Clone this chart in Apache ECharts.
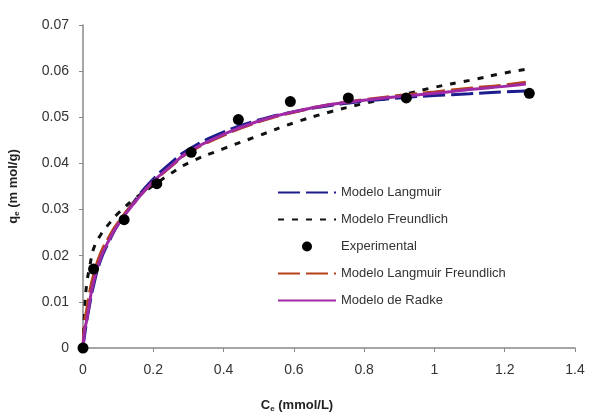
<!DOCTYPE html>
<html>
<head>
<meta charset="utf-8">
<script src="https://cdn.jsdelivr.net/npm/echarts@6/dist/echarts.min.js"></script>
<style>
  html, body { margin: 0; padding: 0; background: #fff; }
  #chart { width: 593px; height: 414px; }
</style>
</head>
<body>
<div id="chart"></div>
<script>
// values
const ce_model = [0, 0.005, 0.01, 0.02, 0.03, 0.05, 0.075, 0.1, 0.15, 0.2, 0.25, 0.3, 0.4, 0.5, 0.6, 0.7, 0.8, 0.9, 1.0, 1.1, 1.2, 1.26]
const langmuir = [0, 0.003, 0.0055, 0.0098, 0.0135, 0.019, 0.0232, 0.0268, 0.0322, 0.0366, 0.0401, 0.043, 0.0468, 0.0494, 0.0512, 0.0525, 0.0535, 0.0542, 0.0547, 0.0551, 0.0555, 0.0557]
const freundlich = [0, 0.0085, 0.0135, 0.018, 0.0215, 0.0245, 0.027, 0.0292, 0.0325, 0.0352, 0.0378, 0.0401, 0.0432, 0.046, 0.0488, 0.0511, 0.053, 0.0547, 0.0565, 0.058, 0.0596, 0.0604]
const lang_freund = [0, 0.006, 0.008, 0.0125, 0.0158, 0.0205, 0.0242, 0.0272, 0.0319, 0.036, 0.0393, 0.0423, 0.0461, 0.049, 0.0511, 0.0527, 0.0538, 0.0547, 0.0555, 0.0563, 0.057, 0.0576]
const radke = [0, 0.004, 0.0058, 0.0105, 0.0143, 0.0195, 0.0235, 0.0268, 0.0318, 0.0361, 0.0394, 0.0425, 0.0463, 0.0492, 0.0512, 0.0527, 0.0537, 0.0545, 0.0552, 0.056, 0.0567, 0.0572]

const ce_exp = [0, 0.03, 0.117, 0.21, 0.308, 0.442, 0.59, 0.755, 0.92, 1.27]
const qe_exp = [0, 0.0171, 0.0278, 0.0356, 0.0424, 0.0495, 0.0534, 0.0542, 0.0542, 0.0552]

const legend_names = ['Modelo Langmuir', 'Modelo Freundlich', 'Experimental', 'Modelo Langmuir Freundlich', 'Modelo de Radke']

const pairs = (xs, ys) => xs.map((x, i) => [x, ys[i]])

const chart = echarts.init(document.getElementById('chart'))

const lineSeries = (name, data, color, dash, z) => ({
    name: name,
    type: 'line',
    data: pairs(ce_model, data),
    smooth: true,
    showSymbol: false,
    symbol: 'none',
    z: z,
    lineStyle: { color: color, width: 3, type: dash },
    itemStyle: { color: color }
})

const subRich = {
    b: { fontWeight: 'bold', fontSize: 13, color: '#222' },
    s: { fontWeight: 'bold', fontSize: 8, color: '#222', verticalAlign: 'bottom', padding: [7, 0, 0, 0] }
}

const option = {
    animation: false,
    textStyle: { fontFamily: 'Liberation Sans, Arial, sans-serif' },
    grid: { left: 83, right: 18, top: 25, bottom: 66, outerBoundsMode: 'none', containLabel: false },
    legend: {
        orient: 'vertical',
        left: 272,
        top: 181,
        itemWidth: 58,
        itemHeight: 10,
        itemGap: 14,
        textStyle: { color: '#333', fontSize: 13 },
        // hide the marker on line samples, keep it for the dots
        data: legend_names.map(n => n === 'Experimental'
            ? { name: n, itemStyle: { opacity: 1 } }
            : { name: n, itemStyle: { opacity: 0 } })
    },
    xAxis: {
        type: 'value',
        min: 0, max: 1.4, interval: 0.2,
        name: '{b|C}{s|e}{b| (mmol/L)}',
        nameLocation: 'middle',
        nameGap: 50,
        nameTextStyle: { padding: [0, 64, 0, 0], rich: subRich },
        axisLine: { lineStyle: { color: '#888', width: 1.5 } },
        axisTick: { lineStyle: { color: '#888' }, length: 4 },
        axisLabel: { color: '#333', fontSize: 14, margin: 15, formatter: v => String(+v.toFixed(1)) },
        splitLine: { show: false }
    },
    yAxis: {
        type: 'value',
        min: 0, max: 0.07, interval: 0.01,
        name: '{b|q}{s|e}{b| (m mol/g)}',
        nameLocation: 'middle',
        nameGap: 62,
        nameRotate: 90,
        nameTextStyle: { rich: subRich },
        axisLine: { show: true, lineStyle: { color: '#888', width: 1.5 } },
        axisTick: { show: true, lineStyle: { color: '#888' }, length: 4 },
        axisLabel: { color: '#333', fontSize: 14, margin: 14, formatter: v => String(+v.toFixed(2)) },
        splitLine: { show: false }
    },
    series: [
        lineSeries('Modelo Freundlich', freundlich, '#111', [6, 8], 2),
        lineSeries('Modelo Langmuir', langmuir, '#1c1c8e', [22, 6], 3),
        lineSeries('Modelo Langmuir Freundlich', lang_freund, '#b5421a', [22, 6], 4),
        lineSeries('Modelo de Radke', radke, '#a02aa6', 'solid', 5),
        {
            name: 'Experimental',
            type: 'scatter',
            data: pairs(ce_exp, qe_exp),
            symbol: 'circle',
            symbolSize: 11,
            z: 6,
            itemStyle: { color: '#000', opacity: 1 }
        }
    ]
}

chart.setOption(option)
</script>
</body>
</html>
